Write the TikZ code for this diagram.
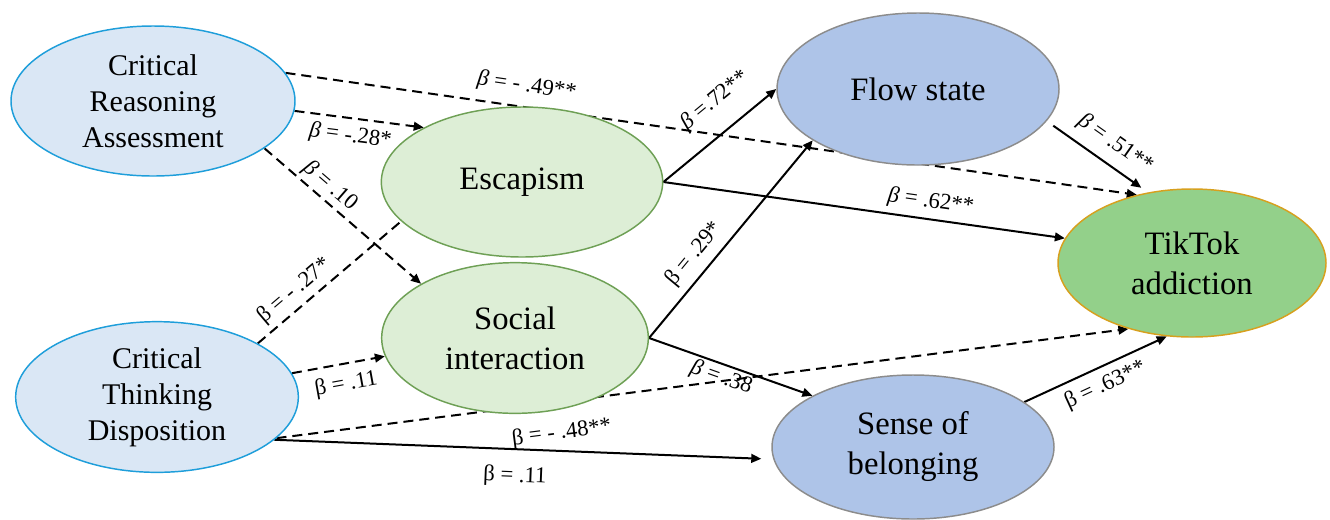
\documentclass[tikz,border=0pt]{standalone}
\usepackage{fontspec}
\setmainfont{Liberation Serif}
\usetikzlibrary{arrows.meta,shapes.geometric}
\definecolor{cbfill}{RGB}{218,231,245}
\definecolor{cbdraw}{RGB}{30,158,218}
\definecolor{gfill}{RGB}{221,238,214}
\definecolor{gdraw}{RGB}{110,160,85}
\definecolor{bfill}{RGB}{174,196,232}
\definecolor{bdraw}{RGB}{140,140,140}
\definecolor{tfill}{RGB}{147,208,138}
\definecolor{tdraw}{RGB}{215,160,30}
\newcommand{\bital}{\textit{β}}
\pgfdeclarelayer{bg}
\pgfsetlayers{bg,main}
\begin{document}
\begin{tikzpicture}[x=0.75pt,y=-0.75pt,
  latent/.style={ellipse, draw, line width=1.1pt, align=center, inner sep=0pt, text=black,
    font=\fontsize{24.5}{30}\selectfont},
  predictor/.style={latent, font=\fontsize{22.5}{27}\selectfont},
  sigpath/.style={line width=1.5pt, -{Triangle[length=7.5pt,width=6.5pt]}},
  nspath/.style={sigpath, dash pattern=on 7.5pt off 4.5pt},
  nsline/.style={line width=1.5pt, dash pattern=on 7.5pt off 4.5pt},
  lbl/.style={font=\fontsize{17}{20}\selectfont, inner sep=1pt, sloped, text=black}
]
\path[use as bounding box] (0,0) rectangle (1330,519);

\node[predictor, fill=cbfill, draw=cbdraw, minimum width=213pt, minimum height=112.5pt] (cra) at (153,101) {Critical\\Reasoning\\Assessment};
\node[predictor, fill=cbfill, draw=cbdraw, minimum width=212pt, minimum height=113pt] (ctd) at (157,397) {Critical\\Thinking\\Disposition};
\node[latent, fill=gfill, draw=gdraw, minimum width=211pt, minimum height=112.5pt] (esc) at (522,182) {Escapism};
\node[latent, fill=gfill, draw=gdraw, minimum width=200pt, minimum height=113pt] (soc) at (515,338) {Social\\interaction};
\node[latent, fill=bfill, draw=bdraw, minimum width=211.5pt, minimum height=114pt] (flow) at (918,89) {Flow state};
\node[latent, fill=bfill, draw=bdraw, minimum width=211.5pt, minimum height=108pt] (sob) at (913,447) {Sense of\\belonging};
\node[latent, fill=tfill, draw=tdraw, minimum width=201pt, minimum height=111pt] (tt) at (1192,263) {TikTok\\addiction};

\begin{pgfonlayer}{bg}
\draw[nspath] (cra.12.6) -- node[lbl, pos=0.28, above=6pt] {\bital{} = - .49**} (tt.129.2);
\draw[nspath] (cra.-4.8) -- node[lbl, pos=0.45, below=4pt] {\bital{} = -.28*} (esc.151.9);
\draw[nspath] (cra.-23.3) -- node[lbl, pos=0.36, above=1.5pt] {\bital{} = .10} (soc.150);
\draw[nsline] (ctd.28.8) -- node[lbl, pos=0.33, above=2.5pt] {β = - .27*} (esc.198.2);
\draw[nspath] (ctd.10.4) -- node[lbl, pos=0.545, below=6pt] {β = .11} (soc.188.9);
\draw[nspath] (ctd.-19.3) -- node[lbl, pos=0.33, below=14pt] {β = - .48**} (tt.226.4);
\draw[sigpath, shorten >=9pt] (ctd.-20.5) -- node[lbl, pos=0.484, below=11pt] {β = .11} (sob.185.7);
\draw[sigpath] (esc.east) -- node[lbl, pos=0.63, above=13pt] {\bital{} =.72**} (flow.180);
\draw[sigpath] (esc.east) -- node[lbl, pos=0.66, above=3.5pt] {\bital{} = .62**} (tt.169.6);
\draw[sigpath] (soc.east) -- node[lbl, pos=0.366, above=4.5pt] {β = .29*} (flow.206.8);
\draw[sigpath] (soc.east) -- node[lbl, pos=0.47, below=0.5pt] {\bital{} = .38} (sob.153.7);
\draw[sigpath, shorten <=6pt, shorten >=6pt] (flow.-14) -- node[lbl, pos=0.56, above=6pt] {\bital{} = .51**} (tt.122.7);
\draw[sigpath] (sob.22.2) -- node[lbl, pos=0.514, below=4.5pt] {β = .63**} (tt.251.3);
\end{pgfonlayer}
\end{tikzpicture}
\end{document}
